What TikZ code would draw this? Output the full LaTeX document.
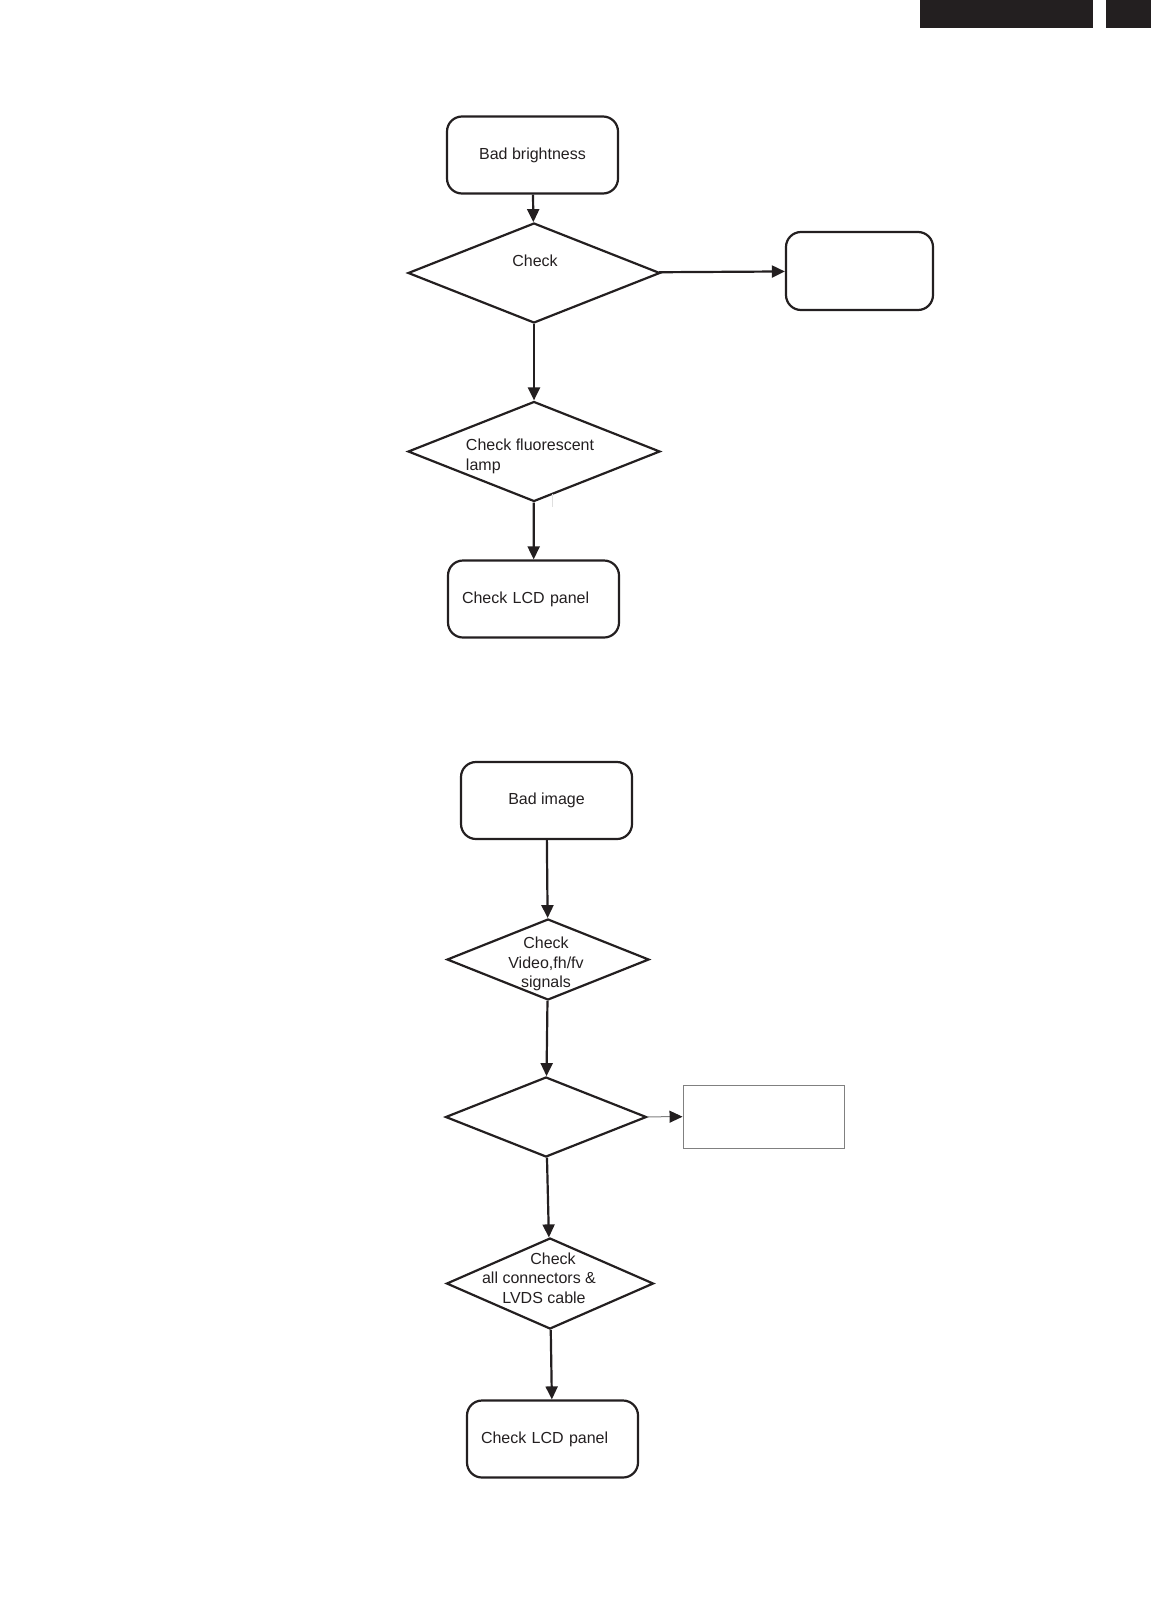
\documentclass[tikz,border=0pt]{standalone}
\usepackage{fontspec}
\setmainfont{Liberation Sans}
\usepackage{tikz}
\usetikzlibrary{shapes.geometric, arrows.meta}
\definecolor{ink}{HTML}{231F20}
\tikzstyle{rbox} = [draw=ink, line width=2.2pt, rounded corners=15pt, inner sep=0pt,
minimum width=171pt, minimum height=77pt, font=\fontsize{16}{19.5}\selectfont, text=ink]
\tikzstyle{leftbox} = [rbox, align=left, text width=143pt, inner xsep=14pt]
\tikzstyle{decide} = [draw=ink, line width=2.2pt, diamond, inner sep=0pt]
\tikzstyle{plainbox} = [draw=gray, line width=1pt, inner sep=0pt]
\tikzstyle{lbl} = [inner sep=0pt, font=\fontsize{16}{19.5}\selectfont, text=ink]
\tikzstyle{arr} = [draw=ink, line width=2.2pt, -{Triangle[length=13pt,width=12pt]}]

\begin{document}
\begin{tikzpicture}[x=1pt, y=-1pt]
                    \useasboundingbox (0,0) rectangle (1151,1611);
                    \fill[ink] (920,0) rectangle (1093,28);
                    \fill[ink] (1106,0) rectangle (1151,28);
                    % bad brightness
                    \node[rbox] (bright) at (532.5,155) {\raisebox{-2pt}{Bad brightness}};
                    \node[decide, minimum width=252pt, minimum height=100pt] (chk1) at (534,273) {};
                    \node[lbl] (chk1txt) at (535,261) {Check};
                    \node[rbox, minimum width=147pt, minimum height=78pt] (side1) at (859.5,271) {};
                    \node[decide, minimum width=252pt, minimum height=100pt] (lamp) at (534,451.5) {};
                    \node[lbl, align=left] (lamptxt) at (530,456.5) {Check fluorescent\\lamp};
                    \draw[gray!25, line width=1pt] (552,494) -- (552,507);
                    \node[leftbox] (lcd1) at (533.5,599) {Check LCD panel};
                    \draw[arr] (bright)--(chk1);
                    \draw[arr] (chk1)--(side1);
                    \draw[arr] (chk1)--(lamp);
                    \draw[arr] (lamp)--(lcd1);
                    % bad image
                    \node[rbox] (image) at (546.5,800.5) {\raisebox{-2pt}{Bad image}};
                    \node[decide, minimum width=202pt, minimum height=81pt] (video) at (548,959.5) {};
                    \node[lbl, align=center] (videotxt) at (546,964) {Check\\Video,fh/fv\\signals};
                    \node[decide, minimum width=201pt, minimum height=80pt] (chk4) at (546,1117) {};
                    \node[plainbox, minimum width=161pt, minimum height=63pt] (side2) at (763.5,1116.5) {};
                    \node[decide, minimum width=207pt, minimum height=91pt] (conn) at (550,1283.5) {};
                    \node[lbl, align=center] (conntxt) at (539,1278) {\hspace*{28pt}Check\\all connectors \&\\\hspace*{10pt}LVDS cable};
                    \node[leftbox] (lcd2) at (552.5,1439) {Check LCD panel};
                    \draw[arr] (image)--(video);
                    \draw[arr] (video)--(chk4);
                    \draw[gray, line width=1pt, -{Triangle[length=13pt,width=12pt,color=ink]}] (chk4)--(side2);
                    \draw[arr] (chk4)--(conn);
                    \draw[arr] (conn)--(lcd2);
                \end{tikzpicture}
\end{document}
